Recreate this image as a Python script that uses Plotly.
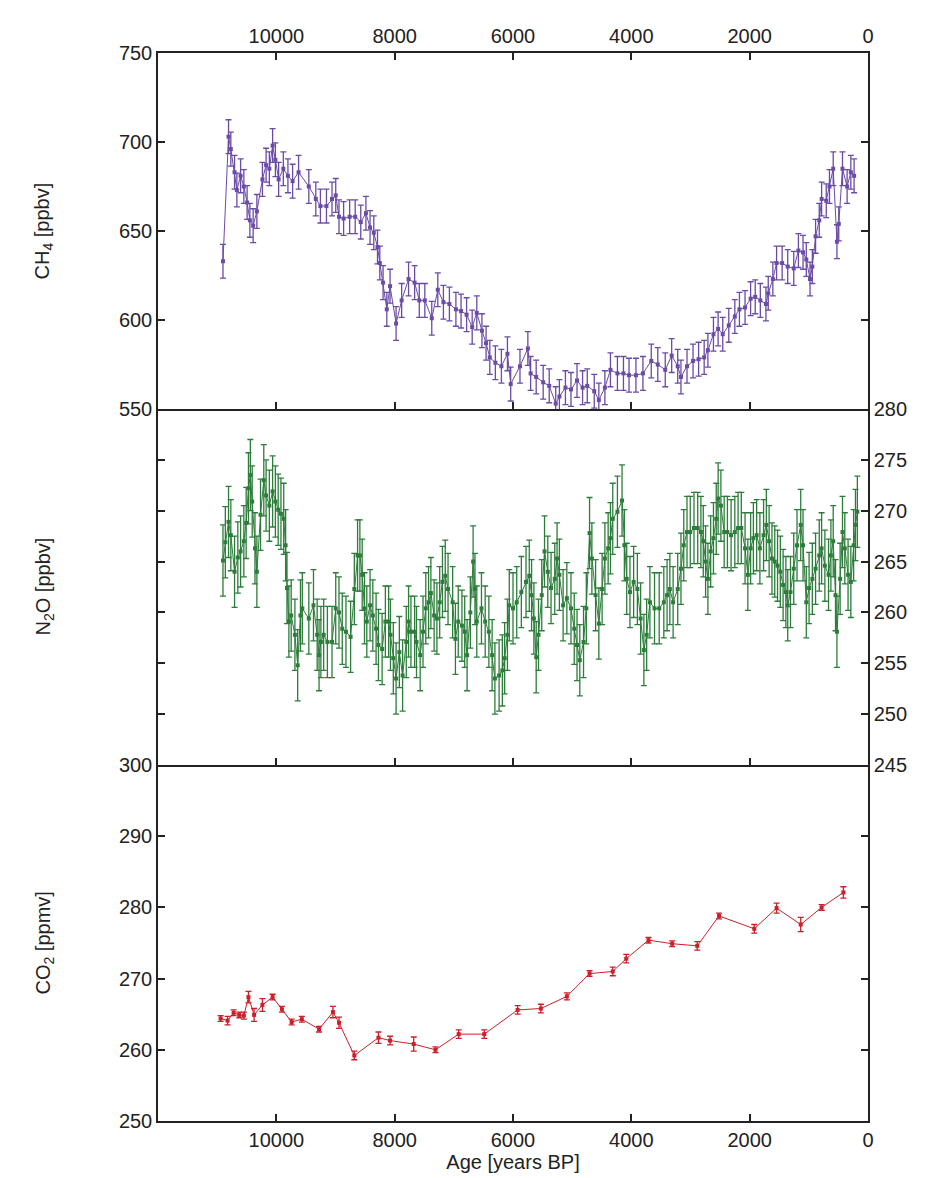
import plotly.graph_objects as go
from plotly.subplots import make_subplots

# CH4 [ppbv]
ch4_age = [10902, 10808, 10769, 10706, 10667, 10604, 10549, 10494, 10447, 10392, 10329, 10235, 10173, 10118,
           10063, 10016, 9961, 9882, 9804, 9725, 9624, 9451, 9333, 9255, 9153, 9059, 8996, 8941, 8863, 8761,
           8667, 8573, 8486, 8416, 8353, 8290, 8251, 8196, 8133, 8078, 7976, 7882, 7765, 7663, 7584, 7490,
           7373, 7271, 7176, 7075, 6965, 6878, 6784, 6690, 6612, 6525, 6455, 6392, 6298, 6196, 6094, 6039,
           5882, 5749, 5702, 5608, 5490, 5388, 5278, 5216, 5114, 5020, 4918, 4824, 4745, 4627, 4549, 4447,
           4353, 4235, 4133, 4039, 3922, 3804, 3663, 3553, 3427, 3318, 3216, 3161, 3059, 2957, 2863, 2769,
           2706, 2612, 2533, 2455, 2353, 2251, 2173, 2078, 1984, 1906, 1820, 1725, 1686, 1608, 1545, 1451,
           1357, 1255, 1176, 1098, 1043, 980, 941, 886, 824, 784, 706, 651, 588, 525, 494, 431, 353, 290, 235]
ch4_val = [633, 703, 696, 683, 673, 681, 675, 666, 656, 653, 661, 679, 687, 685,
           698, 690, 679, 685, 681, 678, 683, 675, 668, 664, 664, 668, 670, 658, 657, 658,
           658, 655, 660, 652, 649, 641, 632, 621, 606, 619, 598, 611, 623, 621, 611, 611,
           601, 617, 610, 609, 606, 605, 603, 596, 604, 594, 587, 579, 576, 574, 581, 564,
           574, 584, 570, 568, 565, 563, 553, 557, 562, 561, 566, 562, 563, 560, 555, 562,
           572, 570, 570, 569, 569, 570, 577, 575, 572, 580, 574, 568, 574, 577, 578, 579,
           583, 592, 595, 592, 597, 602, 606, 607, 612, 613, 611, 609, 615, 623, 632, 632,
           630, 629, 639, 638, 634, 623, 630, 647, 656, 668, 667, 675, 685, 644, 654, 685, 675, 683, 681]
ch4_err = 9.5

# N2O [ppbv]
n2o_age = [10902, 10862, 10808, 10769, 10706, 10651, 10604, 10549, 10510, 10471, 10439, 10408, 10361, 10329,
           10267, 10212, 10173, 10118, 10063, 10016, 9969, 9922, 9875, 9843, 9820, 9788, 9749, 9686, 9639,
           9592, 9561, 9451, 9372, 9310, 9278, 9247, 9200, 9137, 9059, 8996, 8941, 8886, 8823, 8745, 8682,
           8627, 8588, 8549, 8510, 8471, 8416, 8369, 8314, 8274, 8212, 8157, 8102, 8071, 8023, 7976, 7921,
           7866, 7804, 7765, 7725, 7663, 7631, 7569, 7521, 7474, 7427, 7388, 7333, 7286, 7239, 7192, 7145,
           7098, 7020, 6973, 6925, 6863, 6816, 6776, 6721, 6674, 6643, 6612, 6533, 6470, 6408, 6353, 6306,
           6235, 6180, 6141, 6094, 6063, 6000, 5937, 5859, 5780, 5725, 5686, 5647, 5608, 5569, 5514, 5467,
           5412, 5357, 5294, 5255, 5216, 5153, 5090, 5020, 4965, 4918, 4871, 4808, 4761, 4706, 4667, 4604,
           4549, 4494, 4447, 4392, 4353, 4314, 4235, 4157, 4118, 4078, 4023, 3961, 3898, 3843, 3788, 3741,
           3686, 3608, 3529, 3451, 3396, 3349, 3294, 3216, 3161, 3114, 3059, 3004, 2941, 2878, 2824, 2784,
           2745, 2706, 2659, 2612, 2565, 2533, 2486, 2431, 2376, 2314, 2251, 2196, 2141, 2078, 2031, 1984,
           1937, 1882, 1827, 1765, 1718, 1671, 1623, 1576, 1529, 1482, 1435, 1388, 1357, 1310, 1255, 1200,
           1137, 1098, 1043, 996, 941, 886, 824, 784, 729, 667, 627, 588, 549, 525, 471, 431, 392, 337, 290,
           243, 212, 180]
n2o_val = [265.1, 266.9, 268.9, 267.6, 264.0, 265.4, 266.0, 267.0, 268.8, 272.2, 273.5, 270.9, 266.3, 264.0,
           269.6, 273.0, 271.5, 270.5, 271.9, 270.9, 270.1, 269.7, 269.2, 266.6, 262.4, 259.1, 259.7, 257.8, 254.8,
           259.7, 260.4, 259.4, 260.7, 257.8, 255.8, 257.1, 257.8, 257.1, 257.1, 260.4, 260.0, 258.4, 258.1, 257.6, 262.3,
           265.6, 265.6, 263.7, 260.4, 259.1, 260.7, 259.7, 258.4, 256.8, 256.4, 259.1, 259.1, 257.8, 255.5, 253.5, 256.1,
           253.8, 257.1, 259.1, 258.1, 258.1, 257.1, 255.8, 258.1, 260.4, 261.0, 261.9, 259.7, 259.4, 261.0, 263.0, 263.6,
           262.3, 261.0, 257.4, 259.1, 258.7, 258.1, 255.8, 260.0, 265.0, 262.3, 259.1, 260.4, 259.1, 258.1, 255.8, 253.5,
           253.8, 254.3, 255.5, 257.8, 260.7, 260.4, 261.0, 262.0, 263.0, 263.6, 261.7, 259.4, 255.6, 257.8, 261.7, 266.0,
           264.0, 262.4, 263.3, 265.3, 263.7, 260.7, 261.4, 260.4, 258.4, 256.8, 255.3, 257.1, 260.4, 267.8, 265.3, 261.7,
           258.9, 262.3, 265.3, 266.3, 267.3, 269.2, 269.9, 271.0, 266.6, 263.3, 262.0, 263.0, 262.3, 259.4, 256.3, 257.8,
           261.0, 260.4, 260.4, 261.0, 261.7, 262.3, 261.0, 262.3, 264.3, 266.6, 267.9, 267.9, 268.3, 268.3, 267.9, 267.0,
           265.0, 263.3, 266.0, 267.3, 269.2, 271.2, 270.5, 267.9, 267.9, 267.6, 267.9, 268.3, 268.3, 266.3, 263.7, 266.3,
           267.3, 267.6, 266.3, 267.6, 268.6, 267.0, 265.3, 265.0, 264.6, 264.0, 262.7, 262.0, 260.7, 262.0, 264.3, 266.6,
           268.6, 266.6, 261.0, 262.4, 263.3, 264.3, 265.6, 266.3, 264.6, 263.7, 265.6, 267.0, 261.7, 258.1, 263.3, 267.9,
           266.3, 263.7, 263.0, 266.6, 268.6, 269.9]
n2o_err = 3.5

# CO2 [ppmv]
co2_age = [10941, 10824, 10722, 10627, 10549, 10471, 10376, 10235, 10063, 9906, 9741, 9569, 9278, 9043,
           8941, 8682, 8274, 8078, 7678, 7310, 6918, 6486, 5922, 5529, 5090, 4706, 4314, 4086, 3710,
           3310, 2886, 2518, 1922, 1545, 1137, 784, 416]
co2_val = [264.4, 264.1, 265.2, 264.9, 264.8, 267.4, 264.9, 266.3, 267.4, 265.7, 263.9, 264.3, 262.9, 265.3,
           263.8, 259.2, 261.7, 261.3, 260.8, 260.0, 262.2, 262.2, 265.6, 265.8, 267.5, 270.7, 271.0, 272.8, 275.4,
           274.9, 274.6, 278.8, 277.0, 279.9, 277.6, 280.0, 282.1]
co2_err = [0.4, 0.6, 0.4, 0.4, 0.5, 0.8, 0.9, 0.9, 0.4, 0.4, 0.4, 0.4, 0.4, 0.8,
           0.8, 0.6, 0.8, 0.6, 1.0, 0.4, 0.6, 0.6, 0.6, 0.6, 0.5, 0.4, 0.6, 0.6, 0.4,
           0.4, 0.6, 0.4, 0.6, 0.7, 1.0, 0.4, 0.8]

PURPLE = '#6a4ba6'
GREEN = '#2c7d3a'
RED = '#cc1f29'

fig = make_subplots(rows=3, cols=1, shared_xaxes=True, vertical_spacing=0)


def add_series(x, y, err, color, row):
    if isinstance(err, list):
        err_cfg = dict(type='data', array=err, visible=True, color=color, thickness=1.3, width=3)
    else:
        err_cfg = dict(type='constant', value=err, visible=True, color=color, thickness=1.3, width=3)
    fig.add_trace(go.Scatter(x=x, y=y, mode='lines+markers', showlegend=False,
                             line=dict(color=color, width=1),
                             marker=dict(symbol='square', size=4, color=color),
                             error_y=err_cfg), row=row, col=1)


add_series(ch4_age, ch4_val, ch4_err, PURPLE, 1)
add_series(n2o_age, n2o_val, n2o_err, GREEN, 2)
add_series(co2_age, co2_val, co2_err, RED, 3)

axis_font = dict(family='Liberation Sans, Arial', size=20, color='#222')
common = dict(showline=True, linecolor='#222', linewidth=1.5, mirror='ticks', ticks='inside',
              ticklen=7, tickwidth=1.5, tickcolor='#222', showgrid=False, zeroline=False,
              tickfont=axis_font)

age_ticks = [10000, 8000, 6000, 4000, 2000, 0]
for r in (1, 2, 3):
    fig.update_xaxes(range=[12000, 0], tickvals=age_ticks, ticktext=[str(t) for t in age_ticks],
                     row=r, col=1, **common)
# avoid doubled lines where panels touch
fig.update_xaxes(side='top', showticklabels=True, row=1, col=1)
fig.update_xaxes(showticklabels=False, mirror=False, row=2, col=1)
fig.update_xaxes(showticklabels=True, mirror=False, row=3, col=1,
                 title=dict(text='Age [years BP]', font=axis_font, standoff=2))

fig.update_yaxes(range=[550, 750], dtick=50, row=1, col=1, **common)
fig.update_yaxes(range=[245, 280], dtick=5, side='right', row=2, col=1, **common)
fig.update_yaxes(range=[250, 300], dtick=10, row=3, col=1, **common)

titles = [('CH<sub>4</sub> [ppbv]', 5 / 6), ('N<sub>2</sub>O [ppbv]', 0.5), ('CO<sub>2</sub> [ppmv]', 1 / 6)]
for text, ypos in titles:
    fig.add_annotation(text=text, x=0, y=ypos, xref='paper', yref='paper', textangle=-90,
                       xanchor='right', yanchor='middle', xshift=-100, showarrow=False, font=axis_font)

fig.update_layout(width=947, height=1178, plot_bgcolor='white', paper_bgcolor='white',
                  margin=dict(l=150, r=87, t=45, b=65, autoexpand=False))

fig.write_html("out.html")
